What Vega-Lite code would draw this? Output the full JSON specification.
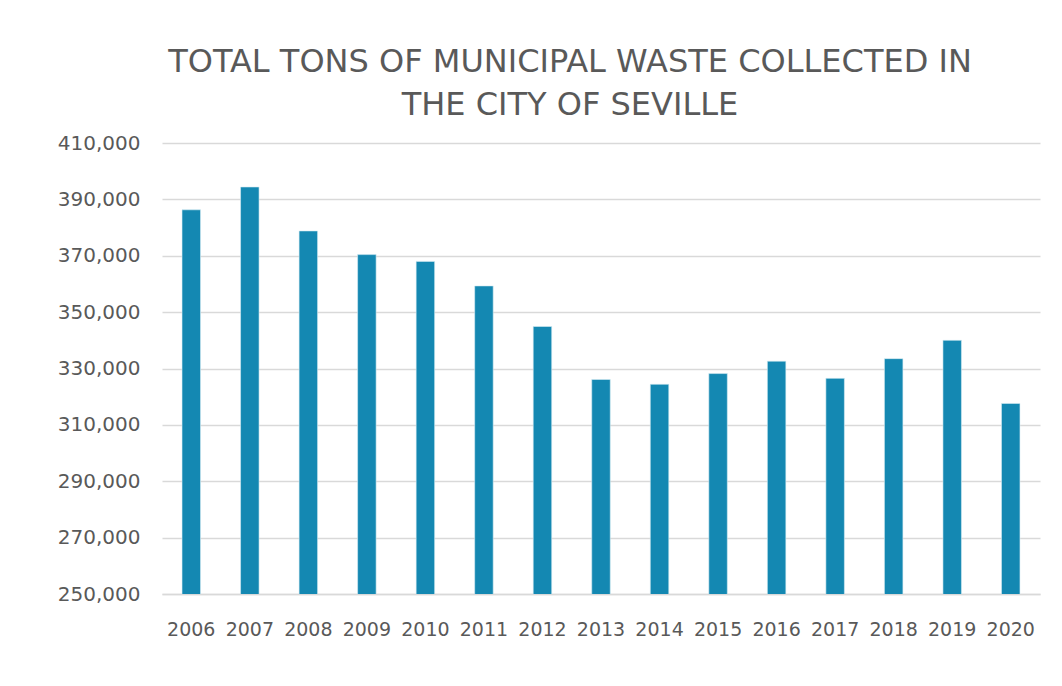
{
  "$schema": "https://vega.github.io/schema/vega-lite/v6.json",
  "autosize": {"type": "none"},
  "width": 878,
  "height": 451,
  "padding": {"left": 162, "top": 143, "right": 22, "bottom": 92},
  "background": "white",
  "title": {
    "text": ["TOTAL TONS OF MUNICIPAL WASTE COLLECTED IN", "THE CITY OF SEVILLE"],
    "anchor": "middle",
    "dx": -31,
    "offset": 11,
    "font": "DejaVu Sans",
    "fontSize": 32,
    "fontWeight": "normal",
    "color": "#595959",
    "lineHeight": 43
  },
  "data": {
    "values": [
      {"year": "2006", "tons": 386300},
      {"year": "2007", "tons": 394400},
      {"year": "2008", "tons": 378800},
      {"year": "2009", "tons": 370400},
      {"year": "2010", "tons": 368000},
      {"year": "2011", "tons": 359300},
      {"year": "2012", "tons": 344900},
      {"year": "2013", "tons": 326100},
      {"year": "2014", "tons": 324400},
      {"year": "2015", "tons": 328200},
      {"year": "2016", "tons": 332600},
      {"year": "2017", "tons": 326500},
      {"year": "2018", "tons": 333500},
      {"year": "2019", "tons": 340000},
      {"year": "2020", "tons": 317600}
    ]
  },
  "mark": {"type": "bar", "color": "#1488b2", "stroke": "#d6ecf4", "strokeWidth": 0.6, "clip": true},
  "encoding": {
    "x": {
      "field": "year",
      "type": "ordinal",
      "scale": {"paddingInner": 0.684, "paddingOuter": 0.342},
      "axis": {
        "title": null,
        "labelAngle": 0,
        "labelFont": "DejaVu Sans",
        "labelFontSize": 19,
        "labelColor": "#595959",
        "labelPadding": 26,
        "ticks": false,
        "domainColor": "#d9d9d9",
        "domainWidth": 1.5
      }
    },
    "y": {
      "field": "tons",
      "type": "quantitative",
      "scale": {"domain": [250000, 410000], "nice": false, "zero": false},
      "axis": {
        "title": null,
        "values": [250000, 270000, 290000, 310000, 330000, 350000, 370000, 390000, 410000],
        "format": ",.0f",
        "labelFont": "DejaVu Sans",
        "labelFontSize": 20,
        "labelColor": "#595959",
        "labelPadding": 22,
        "ticks": false,
        "domain": false,
        "gridColor": "#d9d9d9",
        "gridWidth": 1.5
      }
    }
  },
  "config": {"view": {"stroke": null}}
}
